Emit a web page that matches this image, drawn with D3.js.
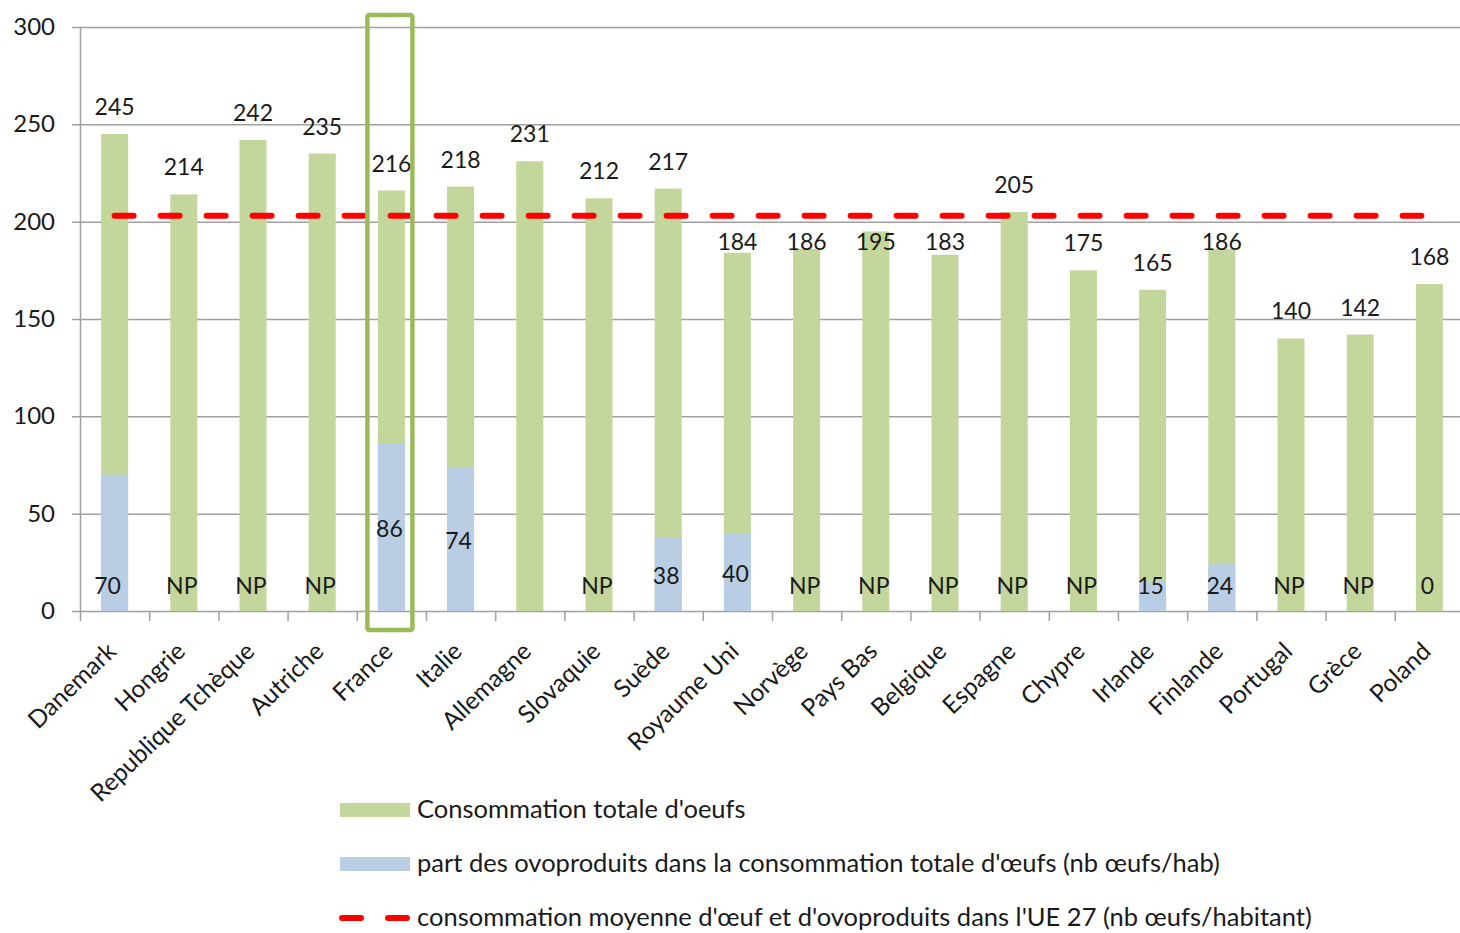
<!DOCTYPE html>
<html>
<head>
<meta charset="utf-8">
<script src="https://cdn.jsdelivr.net/npm/d3@7"></script>
<style>
  body { margin: 0; background: #fff; }
  text { font-family: Lato, "Open Sans", sans-serif; fill: #1a1a1a; }
</style>
</head>
<body>
<svg id="chart" width="1460" height="933"></svg>
<script>
const countries = ['Danemark', 'Hongrie', 'Republique Tchèque', 'Autriche', 'France', 'Italie', 'Allemagne', 'Slovaquie',
  'Suède', 'Royaume Uni', 'Norvège', 'Pays Bas', 'Belgique', 'Espagne', 'Chypre', 'Irlande', 'Finlande', 'Portugal', 'Grèce', 'Poland'];
const totals = [245, 214, 242, 235, 216, 218, 231, 212, 217, 184, 186, 195, 183, 205, 175, 165, 186, 140, 142, 168];
const ovo = [70, 0, 0, 0, 86, 74, 0, 0, 38, 40, 0, 0, 0, 0, 0, 15, 24, 0, 0, 0];
const ovoLabels = ['70', 'NP', 'NP', 'NP', '86', '74', '', 'NP', '38', '40', 'NP', 'NP', 'NP', 'NP', 'NP', '15', '24', 'NP', 'NP', '0'];
const euAverage = 203;
const yTicks = [0, 50, 100, 150, 200, 250, 300];
const highlighted = 'France';
const legendLabels = [
  "Consommation totale d'oeufs",
  "part des ovoproduits dans la consommation totale d'œufs (nb œufs/hab)",
  "consommation moyenne d'œuf et d'ovoproduits dans l'UE 27 (nb œufs/habitant)"
];

const green = '#c3d69b', blue = '#b9cde5', red = '#ff0000', grid = '#a0a0a0';
// labels of these bars sit in the middle of the blue part, the others at the foot
const midLabelled = ['France', 'Italie', 'Suède', 'Royaume Uni'];

const svg = d3.select('#chart');
const W = 1460;

const x = d3.scaleBand().domain(countries).range([80, 1464]);
const y = d3.scaleLinear().domain([0, 300]).range([611, 27]);
const barW = 27;

// gridlines + y ticks
svg.append('g')
  .selectAll('line')
  .data(yTicks)
  .join('line')
  .attr('x1', 72).attr('x2', W)
  .attr('y1', d => y(d) + 0.5).attr('y2', d => y(d) + 0.5)
  .attr('stroke', grid).attr('stroke-width', 1.5);

svg.append('line')
  .attr('x1', 80.5).attr('x2', 80.5)
  .attr('y1', y(300)).attr('y2', y(0))
  .attr('stroke', grid).attr('stroke-width', 1.5);

svg.append('g')
  .selectAll('text')
  .data(yTicks)
  .join('text')
  .attr('x', 55)
  .attr('y', d => y(d) + 8)
  .attr('text-anchor', 'end')
  .style('font-size', '24px')
  .text(d => d);

// x ticks at band boundaries
const bounds = countries.map(c => x(c)).concat([x.range()[1]]);
svg.append('g')
  .selectAll('line')
  .data(bounds)
  .join('line')
  .attr('x1', d => d + 0.5).attr('x2', d => d + 0.5)
  .attr('y1', y(0)).attr('y2', y(0) + 10)
  .attr('stroke', grid).attr('stroke-width', 1.5);

const cx = c => x(c) + x.bandwidth() / 2;

// bars
svg.append('g')
  .selectAll('rect')
  .data(countries)
  .join('rect')
  .attr('x', d => cx(d) - barW / 2)
  .attr('width', barW)
  .attr('y', (d, i) => y(totals[i]))
  .attr('height', (d, i) => y(0) - y(totals[i]))
  .attr('fill', green);

svg.append('g')
  .selectAll('rect')
  .data(countries)
  .join('rect')
  .attr('x', d => cx(d) - barW / 2)
  .attr('width', barW)
  .attr('y', (d, i) => y(ovo[i]))
  .attr('height', (d, i) => y(0) - y(ovo[i]))
  .attr('fill', blue);

// EU average dashed line
svg.append('line')
  .attr('x1', cx(countries[0])).attr('x2', cx(countries[countries.length - 1]) - 8)
  .attr('y1', y(euAverage)).attr('y2', y(euAverage))
  .attr('stroke', red).attr('stroke-width', 6)
  .attr('stroke-linecap', 'round')
  .attr('stroke-dasharray', '19,27');

// total labels (moved under the average line when they would cross it)
const avgY = y(euAverage);
svg.append('g')
  .selectAll('text')
  .data(countries)
  .join('text')
  .attr('x', d => cx(d))
  .attr('y', (d, i) => {
    let c = y(totals[i]) - 27;
    if (Math.abs(c - avgY) < 17) c = avgY + 26;
    return c + 8;
  })
  .attr('text-anchor', 'middle')
  .style('font-size', '23px')
  .text((d, i) => totals[i]);

// ovoproduct labels
svg.append('g')
  .selectAll('text')
  .data(countries)
  .join('text')
  .attr('x', (d, i) => cx(d) - (i === 0 ? 7 : 2))
  .attr('y', (d, i) => midLabelled.includes(d) ? y(ovo[i] / 2) + 10 : y(13) + 8)
  .attr('text-anchor', 'middle')
  .style('font-size', '23px')
  .text((d, i) => ovoLabels[i]);

// highlight box
svg.append('rect')
  .attr('x', cx(highlighted) - 24)
  .attr('y', 15)
  .attr('width', 45)
  .attr('height', 615)
  .attr('rx', 2)
  .attr('fill', 'none')
  .attr('stroke', '#9bbb59')
  .attr('stroke-width', 4.5);

// category labels
svg.append('g')
  .selectAll('text')
  .data(countries)
  .join('text')
  .attr('transform', d => `translate(${cx(d) + 3},653) rotate(-44)`)
  .attr('text-anchor', 'end')
  .style('font-size', '24.5px')
  .text(d => d);

// legend
const legend = svg.append('g').attr('transform', 'translate(340,0)');
const rowY = [810, 864, 918];
legend.append('rect').attr('x', 0).attr('y', rowY[0] - 7).attr('width', 70).attr('height', 14).attr('fill', green);
legend.append('rect').attr('x', 0).attr('y', rowY[1] - 7).attr('width', 70).attr('height', 14).attr('fill', blue);
legend.append('line')
  .attr('x1', 2).attr('x2', 70).attr('y1', rowY[2]).attr('y2', rowY[2])
  .attr('stroke', red).attr('stroke-width', 6)
  .attr('stroke-linecap', 'round')
  .attr('stroke-dasharray', '19,27');
legend.selectAll('text.lg')
  .data(legendLabels)
  .join('text')
  .attr('class', 'lg')
  .attr('x', 77)
  .attr('y', (d, i) => rowY[i] + 8)
  .style('font-size', '25.5px')
  .text(d => d);
</script>
</body>
</html>
